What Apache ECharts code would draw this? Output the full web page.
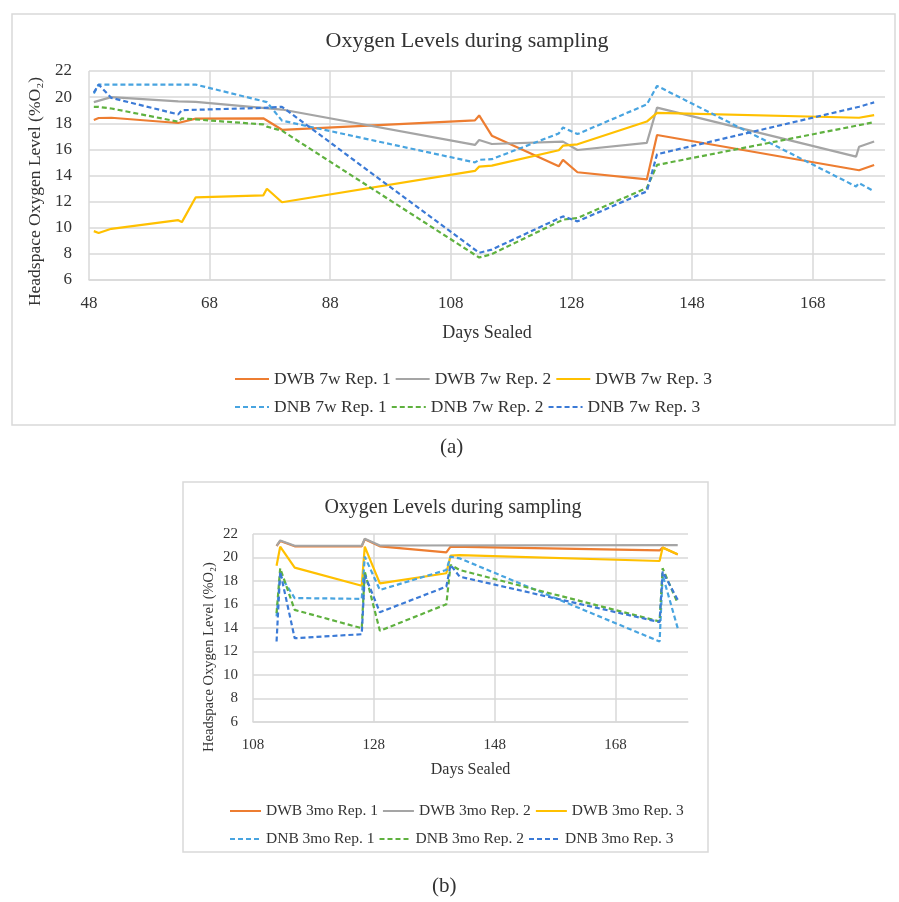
<!DOCTYPE html>
<html>
<head>
<meta charset="utf-8">
<title>Oxygen Levels during sampling</title>
<script src="https://cdn.jsdelivr.net/npm/echarts@6/dist/echarts.min.js"></script>
<style>
  html, body { margin: 0; padding: 0; background: #fff; }
  #chart { width: 899px; height: 902px; }
</style>
</head>
<body>
<div id="chart"></div>
<script>
// ---- (a) 7 week samples ----
const days7w = [48.8, 49.6, 51.7, 62.8, 63.4, 65.7, 76.9, 77.5, 80.0, 112.0, 112.7, 114.8, 125.9, 126.6, 129.0, 140.5, 142.2, 175.2, 175.7, 178.2]
const dwb7wRep1 = [18.25, 18.4, 18.42, 18.02, null, 18.35, 18.38, null, 17.5, 18.22, 18.6, 17.05, 14.7, 15.2, 14.25, 13.7, 17.1, null, 14.4, 14.8]
const dwb7wRep2 = [19.62, null, 20.0, 19.67, null, 19.64, null, null, 19.05, 16.34, 16.72, 16.41, null, 16.59, 15.95, 16.5, 19.2, 15.45, 16.2, 16.6]
const dwb7wRep3 = [9.74, 9.6, 9.92, 10.58, 10.43, 12.33, 12.48, 12.99, 11.95, 14.35, 14.68, 14.76, 15.93, 16.28, 16.39, 18.13, 18.8, null, 18.42, 18.62]
const dnb7wRep1 = [20.27, 20.96, null, null, null, 20.96, null, 19.62, 18.2, 15.0, 15.2, 15.25, 17.22, 17.68, 17.17, 19.44, 20.86, 13.16, 13.42, 12.78]
const dnb7wRep2 = [19.26, 19.25, 19.13, 18.12, 18.37, null, 17.91, 17.74, 17.43, null, 7.72, 7.98, null, 10.62, 10.75, 13.04, 14.81, null, null, 18.08]
const dnb7wRep3 = [20.35, 20.96, 19.94, 18.68, 19.0, null, 19.18, null, 19.26, null, 8.08, 8.33, null, 10.87, 10.49, 12.78, 15.63, null, 19.26, 19.6]

// ---- (b) 3 month samples ----
const days3mo = [111.9, 112.5, 114.9, 126.0, 126.5, 129.0, 140.0, 140.7, 142.2, 175.3, 175.8, 178.3]
const dwb3moRep1 = [20.98, 21.4, 20.95, 20.95, 21.55, 20.95, 20.44, 20.92, null, 20.6, 20.85, 20.25]
const dwb3moRep2 = [21.0, 21.45, 21.0, 21.0, 21.6, 21.02, null, null, null, null, null, 21.05]
const dwb3moRep3 = [19.3, 20.92, 19.14, 17.6, 20.92, 17.8, 18.66, 20.16, 20.2, 19.7, 20.84, 20.27]
const dnb3moRep1 = [15.0, 18.5, 16.55, 16.48, 20.07, 17.24, 18.94, 20.07, 19.93, 12.85, 18.5, 13.98]
const dnb3moRep2 = [15.26, 19.08, 15.54, 13.98, 18.8, 13.76, 16.02, 19.37, 18.94, 14.55, 19.08, 16.1]
const dnb3moRep3 = [12.85, 18.8, 13.13, 13.47, 18.52, 15.34, 17.52, 19.37, 18.37, 14.5, 18.8, 16.39]

// axis ranges / labels
const xRange7w = [48, 180]
const xRange3mo = [108, 180]
const yRange = [6, 22]

const titleText = 'Oxygen Levels during sampling'
const xName = 'Days Sealed'
const yName = 'Headspace Oxygen Level (%O₂)'

// colours (orange, grey, gold, light blue, green, blue)
const colors = ['#ED7D31', '#A5A5A5', '#FFC000', '#48A4E0', '#5FB13F', '#3B7AD6']
const font = 'Liberation Serif'
const textColor = '#333'
const gridColor = '#D9D9D9'

// join x / y arrays, dropping the points a series doesn't have
function pairs(xs, ys) {
  const out = []
  xs.forEach((x, i) => {
    if (ys[i] !== null) out.push([x, ys[i]])
  })
  return out
}

function makeSeries(name, xs, ys, idx, colorIdx, dashed) {
  return {
    name: name,
    type: 'line',
    xAxisIndex: idx,
    yAxisIndex: idx,
    data: pairs(xs, ys),
    symbol: 'none',
    color: colors[colorIdx],
    lineStyle: {
      width: 2.2,
      color: colors[colorIdx],
      type: dashed ? [5, 3] : 'solid'
    },
    animation: false
  }
}

// vertical grid lines: one per tick, the last one (axis max) hidden
function splitColors(range) {
  const n = Math.floor((range[1] - range[0]) / 20) + 1
  const list = []
  for (let i = 0; i < n; i++) list.push(gridColor)
  list.push('rgba(0,0,0,0)')
  return list
}

function xAxisOf(idx, range, fs, labelMargin, nameGap) {
  return {
    type: 'value',
    gridIndex: idx,
    min: range[0],
    max: range[1],
    interval: 20,
    name: xName,
    nameLocation: 'middle',
    nameGap: nameGap,
    nameTextStyle: { fontFamily: font, fontSize: fs + 1, color: textColor },
    axisLine: { show: true, lineStyle: { color: gridColor, width: 1.5 } },
    axisTick: { show: false },
    axisLabel: { fontFamily: font, fontSize: fs, color: textColor, margin: labelMargin, showMaxLabel: false },
    splitLine: { show: true, lineStyle: { color: splitColors(range), width: 1.5 } }
  }
}

function yAxisOf(idx, fs, nfs, labelMargin, nameGap, shift) {
  return {
    type: 'value',
    gridIndex: idx,
    min: yRange[0],
    max: yRange[1],
    interval: 2,
    name: yName,
    nameLocation: 'middle',
    nameGap: nameGap,
    nameTextStyle: { fontFamily: font, fontSize: nfs, color: textColor, padding: [0, shift, 0, 0] },
    axisLine: { show: false },
    axisTick: { show: false },
    axisLabel: { fontFamily: font, fontSize: fs, color: textColor, margin: labelMargin },
    splitLine: { show: true, lineStyle: { color: gridColor, width: 1.5 } }
  }
}

function legendOf(names, left, top, fs, iw) {
  return {
    data: names,
    left: left,
    top: top,
    orient: 'horizontal',
    itemWidth: iw,
    itemHeight: 14,
    itemGap: 4,
    // line only, no marker dot in the legend
    itemStyle: { color: 'rgba(0,0,0,0)', borderWidth: 0, opacity: 0 },
    textStyle: { fontFamily: font, fontSize: fs, color: textColor }
  }
}

const chart = echarts.init(document.getElementById('chart'), null, { renderer: 'canvas' })

const namesA = ['DWB 7w Rep. 1', 'DWB 7w Rep. 2', 'DWB 7w Rep. 3', 'DNB 7w Rep. 1', 'DNB 7w Rep. 2', 'DNB 7w Rep. 3']
const namesB = ['DWB 3mo Rep. 1', 'DWB 3mo Rep. 2', 'DWB 3mo Rep. 3', 'DNB 3mo Rep. 1', 'DNB 3mo Rep. 2', 'DNB 3mo Rep. 3']
const valsA = [dwb7wRep1, dwb7wRep2, dwb7wRep3, dnb7wRep1, dnb7wRep2, dnb7wRep3]
const valsB = [dwb3moRep1, dwb3moRep2, dwb3moRep3, dnb3moRep1, dnb3moRep2, dnb3moRep3]

const series = []
namesA.forEach((n, i) => series.push(makeSeries(n, days7w, valsA[i], 0, i, i >= 3)))
namesB.forEach((n, i) => series.push(makeSeries(n, days3mo, valsB[i], 1, i, i >= 3)))

const option = {
  backgroundColor: '#fff',
  animation: false,
  title: [
    { text: titleText, left: 462, top: 25, textAlign: 'center',
      textStyle: { fontFamily: font, fontSize: 22, fontWeight: 'normal', color: textColor } },
    { text: titleText, left: 448, top: 493, textAlign: 'center',
      textStyle: { fontFamily: font, fontSize: 20, fontWeight: 'normal', color: textColor } }
  ],
  grid: [
    { left: 89, top: 71, width: 796, height: 209, containLabel: false },
    { left: 253, top: 534, width: 435, height: 188, containLabel: false }
  ],
  xAxis: [
    xAxisOf(0, xRange7w, 17, 15, 44),
    xAxisOf(1, xRange3mo, 15, 16, 40)
  ],
  yAxis: [
    yAxisOf(0, 17, 17.5, 17, 36, 32),
    yAxisOf(1, 15, 14.5, 15, 36, 58)
  ],
  legend: [
    legendOf(namesA.slice(0, 3), 229, 365, 17.5, 34),
    legendOf(namesA.slice(3), 229, 393, 17.5, 34),
    legendOf(namesB.slice(0, 3), 224, 798, 15.5, 31),
    legendOf(namesB.slice(3), 224, 826, 15.5, 31)
  ],
  graphic: [
    { type: 'rect', shape: { x: 12, y: 14, width: 883, height: 411 }, style: { fill: 'none', stroke: gridColor, lineWidth: 1.5 }, silent: true },
    { type: 'rect', shape: { x: 183, y: 482, width: 525, height: 370 }, style: { fill: 'none', stroke: gridColor, lineWidth: 1.5 }, silent: true },
    { type: 'text', left: 440, top: 437, style: { text: '(a)', fontFamily: font, fontSize: 21, fill: textColor }, silent: true },
    { type: 'text', left: 432, top: 876, style: { text: '(b)', fontFamily: font, fontSize: 21, fill: textColor }, silent: true }
  ],
  series: series
}

chart.setOption(option)
</script>
</body>
</html>
